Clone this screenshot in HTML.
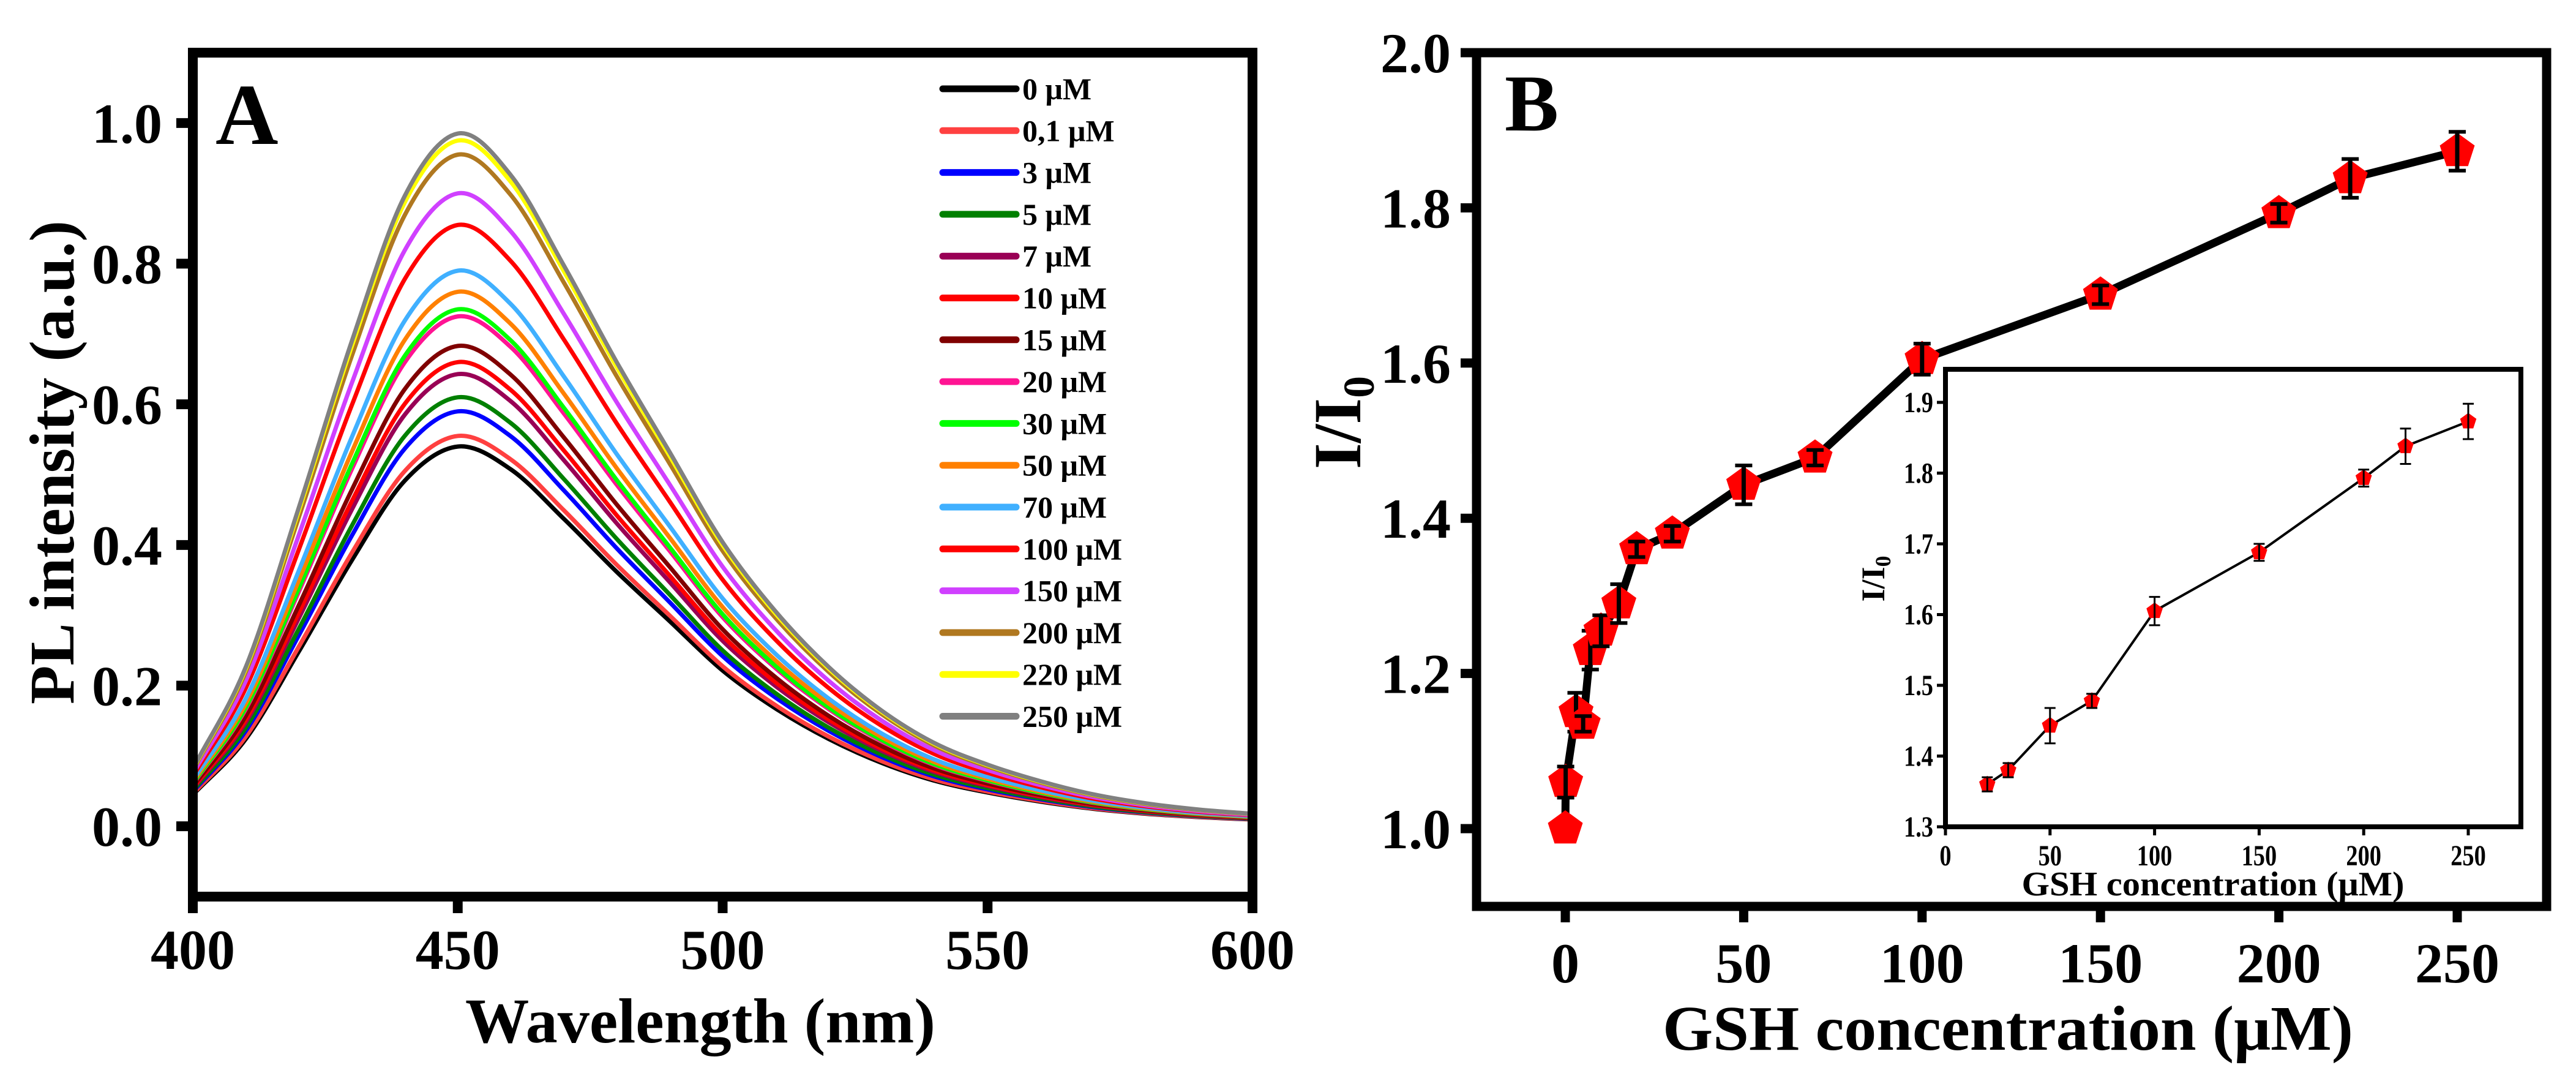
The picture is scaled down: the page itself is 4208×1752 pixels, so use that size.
<!DOCTYPE html>
<html><head><meta charset="utf-8"><style>
html,body{margin:0;padding:0;background:#fff}
svg{display:block}
text{font-family:"Liberation Serif",serif;font-weight:bold;fill:#000}
</style></head><body>
<svg id="fig" xmlns="http://www.w3.org/2000/svg" width="4208" height="1752" viewBox="0 0 4208 1752">
<g id="panelA"></g>
<g id="panelB"></g>
</svg>
<script>
// ---------- Panel A data ----------
const wavelengths = [400,410,420,430,440,450,460,470,480,490,500,510,520,530,540,550,560,570,580,590,600];
const profile = [0.083,0.23,0.46,0.70,0.91,1,0.94,0.81,0.67,0.54,0.41,0.31,0.23,0.167,0.12,0.089,0.065,0.046,0.033,0.024,0.018];
const seriesLabels = ["0 μM","0,1 μM","3 μM","5 μM","7 μM","10 μM","15 μM","20 μM","30 μM","50 μM","70 μM","100 μM","150 μM","200 μM","220 μM","250 μM"];
const seriesPeaks = [0.54,0.555,0.59,0.61,0.643,0.66,0.683,0.725,0.735,0.76,0.79,0.855,0.90,0.955,0.975,0.985];
const seriesColors = ["#000000","#ff4040","#0000ff","#008000","#990055","#ff0000","#800000","#ff1493","#00ff00","#ff8000","#40b0ff","#ff0000","#d040ff","#b07820","#ffff00","#808080"];
const aXTicks = [400,450,500,550,600];
const aYTicks = [0.0,0.2,0.4,0.6,0.8,1.0];
// ---------- Panel B data ----------
const gshConc = [0,0.1,3,5,7,10,15,20,30,50,70,100,150,200,220,250];
const ratio = [1.0,1.06,1.15,1.135,1.23,1.255,1.29,1.36,1.38,1.443,1.478,1.605,1.688,1.793,1.838,1.873];
const ratioErr = [0,0.02,0.025,0.01,0.025,0.02,0.025,0.01,0.01,0.025,0.01,0.02,0.012,0.012,0.025,0.025];
const bXTicks = [0,50,100,150,200,250];
const bYTicks = [1.0,1.2,1.4,1.6,1.8,2.0];
const insetStart = 7; // index of 20 μM
const insetXTicks = [0,50,100,150,200,250];
const insetYTicks = [1.3,1.4,1.5,1.6,1.7,1.8,1.9];

const NS = "http://www.w3.org/2000/svg";
function mk(parent, tag, attrs, txt){
  const e = document.createElementNS(NS, tag);
  for (const k in attrs) e.setAttribute(k, attrs[k]);
  if (txt !== undefined) e.textContent = txt;
  parent.appendChild(e);
  return e;
}
function smoothPath(pts){
  const n = pts.length;
  const first = [2*pts[0][0]-pts[1][0], 2*pts[0][1]-pts[1][1]];
  const last = [2*pts[n-1][0]-pts[n-2][0], 2*pts[n-1][1]-pts[n-2][1]];
  const P = [first].concat(pts, [last]);
  let d = "M" + pts[0][0].toFixed(1) + "," + pts[0][1].toFixed(1);
  for (let i = 1; i < P.length - 2; i++){
    const p0 = P[i-1], p1 = P[i], p2 = P[i+1], p3 = P[i+2];
    const c1x = p1[0] + (p2[0]-p0[0])/6, c1y = p1[1] + (p2[1]-p0[1])/6;
    const c2x = p2[0] - (p3[0]-p1[0])/6, c2y = p2[1] - (p3[1]-p1[1])/6;
    d += " C" + c1x.toFixed(1)+","+c1y.toFixed(1)+" "+c2x.toFixed(1)+","+c2y.toFixed(1)+" "+p2[0].toFixed(1)+","+p2[1].toFixed(1);
  }
  return d;
}
function pentagon(cx, cy, r){
  const p = [];
  for (let i = 0; i < 5; i++){
    const a = -Math.PI/2 + i*2*Math.PI/5;
    p.push((cx + r*Math.cos(a)).toFixed(1) + "," + (cy + r*Math.sin(a)).toFixed(1));
  }
  return p.join(" ");
}

// ================= Panel A =================
const A = document.getElementById("panelA");
const aL = 315, aR = 2046, aT = 86, aB = 1464;
const ax = v => aL + (v - 400) / 200 * (aR - aL);
const ay = v => aB - (v + 0.1) / 1.2 * (aB - aT);

const curves = mk(A, "g", {});


seriesPeaks.forEach((pk, s) => {
  const pts = wavelengths.map((w, i) => [ax(w), ay(profile[i] * pk)]);
  const p = mk(curves, "path", {d: smoothPath(pts), fill: "none", stroke: seriesColors[s], "stroke-width": 7, "stroke-linejoin": "round"});
  
  
});
const aFrame = mk(A, "rect", {x: aL, y: aT, width: aR - aL, height: aB - aT, fill: "none", stroke: "#000", "stroke-width": 16});


aXTicks.forEach(t => {
  const l = mk(A, "line", {x1: ax(t), x2: ax(t), y1: aB, y2: aB + 27, stroke: "#000", "stroke-width": 16});
  
  
  const tx = mk(A, "text", {x: ax(t), y: 1582, "font-size": 92, "text-anchor": "middle"}, String(t));
  
  
});
aYTicks.forEach(t => {
  const l = mk(A, "line", {x1: aL - 27, x2: aL, y1: ay(t), y2: ay(t), stroke: "#000", "stroke-width": 16});
  
  
  const tx = mk(A, "text", {x: 265, y: ay(t) + 32, "font-size": 92, "text-anchor": "end"}, t.toFixed(1));
  
  
});
{
  const t1 = mk(A, "text", {x: 1144, y: 1702, "font-size": 104, "text-anchor": "middle", textLength: 768, lengthAdjust: "spacingAndGlyphs"}, "Wavelength (nm)");
  
  
  const t2 = mk(A, "text", {x: 0, y: 0, "font-size": 104, "text-anchor": "middle", textLength: 790, lengthAdjust: "spacingAndGlyphs", transform: "translate(120,755) rotate(-90)"}, "PL intensity (a.u.)");
  
  
  const t3 = mk(A, "text", {x: 352, y: 235, "font-size": 142}, "A");
  
  
}
const leg = mk(A, "g", {});


seriesLabels.forEach((lab, s) => {
  const y = 145 + s * 68.3;
  const g = mk(leg, "g", {});
  
  
  mk(g, "line", {x1: 1540, x2: 1660, y1: y, y2: y, stroke: seriesColors[s], "stroke-width": 11, "stroke-linecap": "round"});
  mk(g, "text", {x: 1670, y: y + 17, "font-size": 50}, lab);
});

// ================= Panel B =================
const B = document.getElementById("panelB");
const bL = 2412, bR = 4160, bT = 86, bB = 1480;
const bx = v => 2557 + v / 50 * 291.4;
const by = v => 1353 - (v - 1.0) / 0.1 * 126.7;

const bLine = mk(B, "polyline", {points: gshConc.map((c, i) => bx(c).toFixed(1) + "," + by(ratio[i]).toFixed(1)).join(" "), fill: "none", stroke: "#000", "stroke-width": 13, "stroke-linejoin": "round"});


gshConc.forEach((c, i) => {
  const g = mk(B, "g", {});
  
  
  mk(g, "polygon", {points: pentagon(bx(c), by(ratio[i]), 30), fill: "#ff0000"});
  if (ratioErr[i] > 0){
    const x = bx(c), y1 = by(ratio[i] + ratioErr[i]), y2 = by(ratio[i] - ratioErr[i]);
    mk(g, "line", {x1: x, x2: x, y1: y1, y2: y2, stroke: "#000", "stroke-width": 7});
    mk(g, "line", {x1: x - 14, x2: x + 14, y1: y1, y2: y1, stroke: "#000", "stroke-width": 6});
    mk(g, "line", {x1: x - 14, x2: x + 14, y1: y2, y2: y2, stroke: "#000", "stroke-width": 6});
  }
});
const bFrame = mk(B, "rect", {x: bL, y: bT, width: bR - bL, height: bB - bT, fill: "none", stroke: "#000", "stroke-width": 15});


bXTicks.forEach(t => {
  const l = mk(B, "line", {x1: bx(t), x2: bx(t), y1: bB, y2: bB + 26, stroke: "#000", "stroke-width": 15});
  
  
  const tx = mk(B, "text", {x: bx(t), y: 1604, "font-size": 92, "text-anchor": "middle"}, String(t));
  
  
});
bYTicks.forEach(t => {
  const l = mk(B, "line", {x1: bL - 26, x2: bL, y1: by(t), y2: by(t), stroke: "#000", "stroke-width": 15});
  
  
  const tx = mk(B, "text", {x: 2370, y: by(t) + 32, "font-size": 92, "text-anchor": "end"}, t.toFixed(1));
  
  
});
{
  const t1 = mk(B, "text", {x: 3280, y: 1714, "font-size": 104, "text-anchor": "middle", textLength: 1128, lengthAdjust: "spacingAndGlyphs"}, "GSH concentration (μM)");
  
  
  const t2 = mk(B, "text", {x: 0, y: 0, "font-size": 110, "text-anchor": "middle", transform: "translate(2222,690) rotate(-90)"});
  
  
  mk(t2, "tspan", {}, "I/I");
  mk(t2, "tspan", {"font-size": 72, dy: 22}, "0");
  const t3 = mk(B, "text", {x: 2458, y: 213, "font-size": 132}, "B");
  
  
}

// ---------- Inset ----------
const I = mk(B, "g", {});


const iL = 3178, iR = 4118, iT = 603, iB = 1350;
mk(I, "rect", {x: iL, y: iT, width: iR - iL, height: iB - iT, fill: "#fff", stroke: "none"});
const ix = v => iL + v / 50 * 170.8;
const iy = v => 1350 - (v - 1.3) / 0.1 * 115.5;
const iPts = [];
for (let i = insetStart; i < gshConc.length; i++) iPts.push(ix(gshConc[i]).toFixed(1) + "," + iy(ratio[i]).toFixed(1));
const iLine = mk(I, "polyline", {points: iPts.join(" "), fill: "none", stroke: "#000", "stroke-width": 4});


for (let i = insetStart; i < gshConc.length; i++){
  const g = mk(I, "g", {});
  
  
  const x = ix(gshConc[i]), y1 = iy(ratio[i] + ratioErr[i]), y2 = iy(ratio[i] - ratioErr[i]);
  mk(g, "polygon", {points: pentagon(x, iy(ratio[i]), 14), fill: "#ff0000"});
  mk(g, "line", {x1: x, x2: x, y1: y1, y2: y2, stroke: "#000", "stroke-width": 3});
  mk(g, "line", {x1: x - 9, x2: x + 9, y1: y1, y2: y1, stroke: "#000", "stroke-width": 3});
  mk(g, "line", {x1: x - 9, x2: x + 9, y1: y2, y2: y2, stroke: "#000", "stroke-width": 3});
}
const iFrame = mk(I, "rect", {x: iL, y: iT, width: iR - iL, height: iB - iT, fill: "none", stroke: "#000", "stroke-width": 8});


insetXTicks.forEach(t => {
  const l = mk(I, "line", {x1: ix(t), x2: ix(t), y1: iB, y2: iB + 14, stroke: "#000", "stroke-width": 5});
  
  
  const tx = mk(I, "text", {x: ix(t), y: 1413, "font-size": 48, "text-anchor": "middle", transform: "translate(" + ix(t) + ",0) scale(0.8,1) translate(" + (-ix(t)) + ",0)"}, String(t));
  
  
});
insetYTicks.forEach(t => {
  const l = mk(I, "line", {x1: iL - 14, x2: iL, y1: iy(t), y2: iy(t), stroke: "#000", "stroke-width": 5});
  
  
  const tx = mk(I, "text", {x: 3158, y: iy(t) + 16, "font-size": 48, "text-anchor": "end", transform: "translate(3158,0) scale(0.8,1) translate(-3158,0)"}, t.toFixed(1));
  
  
});
{
  const t1 = mk(I, "text", {x: 3615, y: 1462, "font-size": 56, "text-anchor": "middle", textLength: 625, lengthAdjust: "spacingAndGlyphs"}, "GSH concentration (μM)");
  
  
  const t2 = mk(I, "text", {x: 0, y: 0, "font-size": 54, "text-anchor": "middle", transform: "translate(3078,945) rotate(-90)"});
  
  
  mk(t2, "tspan", {}, "I/I");
  mk(t2, "tspan", {"font-size": 36, dy: 10}, "0");
}
</script>
</body></html>
